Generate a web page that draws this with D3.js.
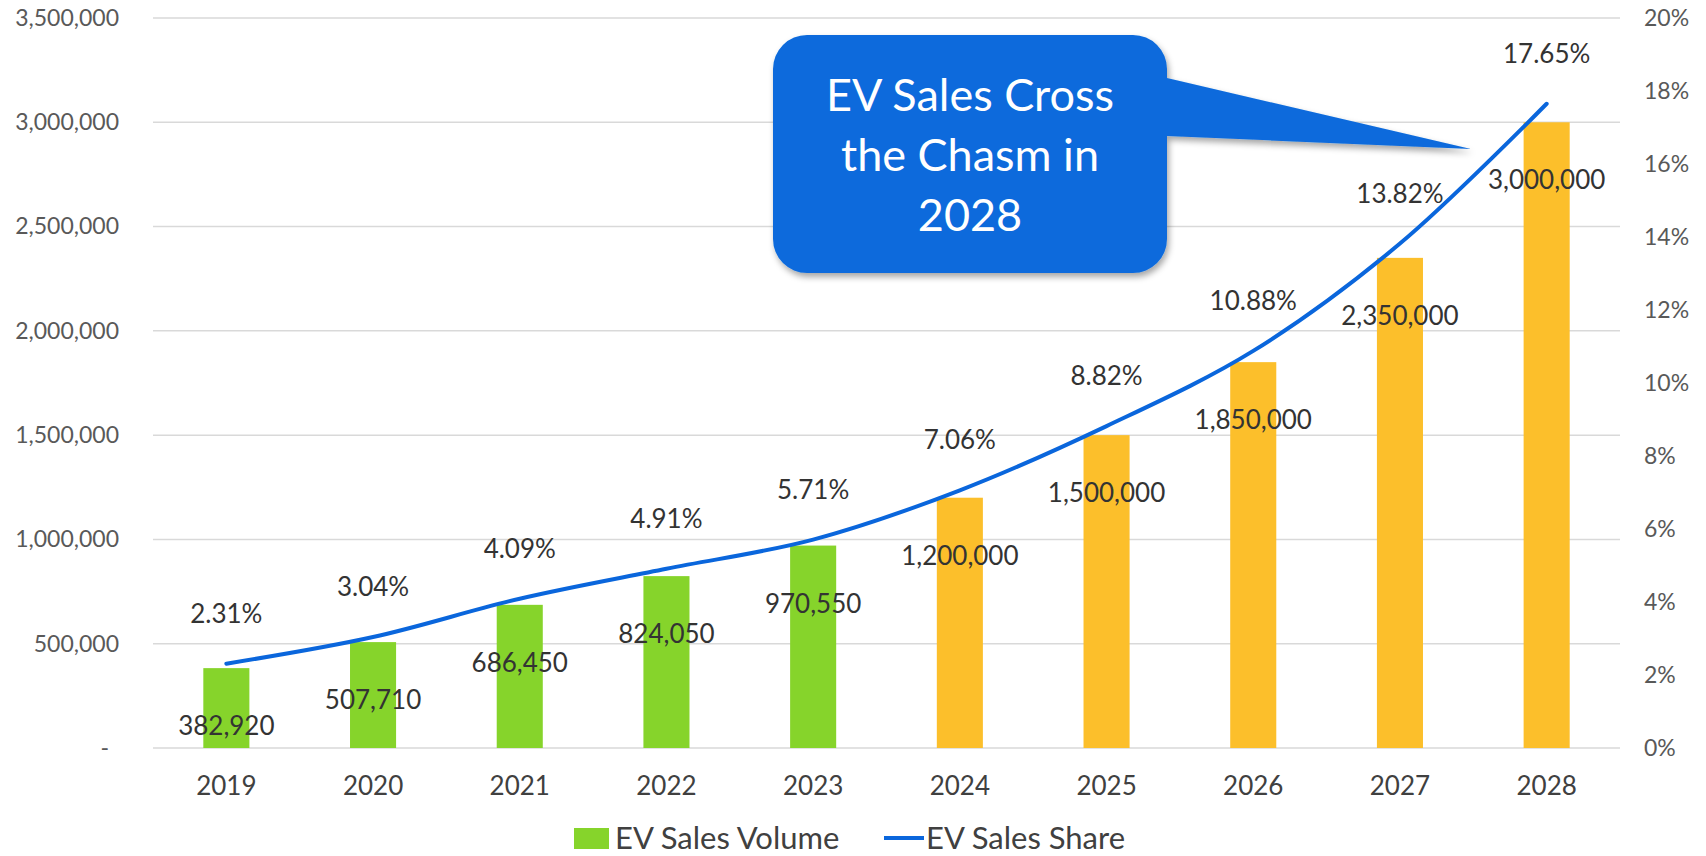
<!DOCTYPE html>
<html>
<head>
<meta charset="utf-8">
<script src="https://cdn.jsdelivr.net/npm/d3@7"></script>
<style>
  body { margin: 0; background: #ffffff; }
  svg text { font-family: Lato, "Open Sans", sans-serif; }
</style>
</head>
<body>
<div id="chart"></div>
<script>
// data
const years = ["2019", "2020", "2021", "2022", "2023", "2024", "2025", "2026", "2027", "2028"];
const salesVolume = [382920, 507710, 686450, 824050, 970550, 1200000, 1500000, 1850000, 2350000, 3000000];
const salesShare = [2.31, 3.04, 4.09, 4.91, 5.71, 7.06, 8.82, 10.88, 13.82, 17.65];
const forecastYears = ["2024", "2025", "2026", "2027", "2028"];
const volumeTicks = [0, 500000, 1000000, 1500000, 2000000, 2500000, 3000000, 3500000];
const shareTicks = [0, 2, 4, 6, 8, 10, 12, 14, 16, 18, 20];
const legendLabels = ["EV Sales Volume", "EV Sales Share"];
const calloutLines = ["EV Sales Cross", "the Chasm in", "2028"];

function draw_chart() {
    let width = 1706, height = 856;
    let margin = {top: 18, right: 86, bottom: 108, left: 153};
    let plot_w = width - margin.left - margin.right,
        plot_h = height - margin.top - margin.bottom;

    let svg = d3.select("#chart")
        .append("svg")
        .attr("width", width)
        .attr("height", height);

    let defs = svg.append("defs");
    let shadow = defs.append("filter").attr("id", "shadow")
        .attr("x", "-10%").attr("y", "-10%").attr("width", "130%").attr("height", "130%");
    shadow.append("feDropShadow")
        .attr("dx", 2).attr("dy", 4).attr("stdDeviation", 3)
        .attr("flood-color", "#000").attr("flood-opacity", 0.35);

    let g = svg.append("g")
        .attr("transform", "translate(" + margin.left + "," + margin.top + ")");

    // scales
    let x = d3.scaleBand()
        .domain(years)
        .range([0, plot_w])
        .paddingInner(0.686)
        .paddingOuter(0.343);
    let y = d3.scaleLinear()
        .domain([0, 3500000])
        .range([plot_h, 0]);
    let y2 = d3.scaleLinear()
        .domain([0, 20])
        .range([plot_h, 0]);

    // gridlines
    g.append("g")
        .selectAll("line")
        .data(volumeTicks)
        .enter()
        .append("line")
        .attr("x1", 0)
        .attr("x2", plot_w)
        .attr("y1", d => y(d))
        .attr("y2", d => y(d))
        .attr("stroke", "#d9d9d9")
        .attr("stroke-width", 1.5);

    // left axis
    let left_axis = g.append("g")
        .call(d3.axisLeft(y)
            .tickValues(volumeTicks)
            .tickSize(0)
            .tickPadding(34)
            .tickFormat(d => d === 0 ? "-" : d3.format(",")(d)));
    left_axis.select(".domain").remove();
    left_axis.selectAll("text")
        .attr("font-size", "23px")
        .attr("fill", "#595959")
        .attr("dx", d => d === 0 ? -10 : 0);

    // right axis
    let right_axis = g.append("g")
        .attr("transform", "translate(" + (plot_w + 24) + ",0)")
        .call(d3.axisRight(y2)
            .tickValues(shareTicks)
            .tickSize(0)
            .tickPadding(0)
            .tickFormat(d => d + "%"));
    right_axis.select(".domain").remove();
    right_axis.selectAll("text")
        .attr("font-size", "23px")
        .attr("fill", "#595959");

    // bottom axis
    let bottom_axis = g.append("g")
        .attr("transform", "translate(0," + plot_h + ")")
        .call(d3.axisBottom(x).tickSize(0).tickPadding(29));
    bottom_axis.select(".domain").remove();
    bottom_axis.selectAll("text")
        .attr("font-size", "26px")
        .attr("fill", "#404040");

    let rows = years.map((yr, i) => ({year: yr, volume: salesVolume[i], share: salesShare[i]}));

    // bars
    g.selectAll(".bar")
        .data(rows)
        .enter()
        .append("rect")
        .attr("class", "bar")
        .attr("x", d => x(d.year))
        .attr("width", x.bandwidth())
        .attr("y", d => y(d.volume))
        .attr("height", d => plot_h - y(d.volume))
        .attr("fill", d => forecastYears.includes(d.year) ? "#fcbf2b" : "#86d42b");

    // share line
    let line = d3.line()
        .x(d => x(d.year) + x.bandwidth() / 2)
        .y(d => y2(d.share))
        .curve(d3.curveCatmullRom.alpha(0.5));
    g.append("path")
        .datum(rows)
        .attr("d", line)
        .attr("fill", "none")
        .attr("stroke", "#0a66dc")
        .attr("stroke-width", 4)
        .attr("stroke-linecap", "round");

    // bar value labels
    g.selectAll(".vol-label")
        .data(rows)
        .enter()
        .append("text")
        .attr("class", "vol-label")
        .text(d => d3.format(",")(d.volume))
        .attr("x", d => x(d.year) + x.bandwidth() / 2)
        .attr("y", d => y(d.volume) + 58)
        .attr("dy", "0.35em")
        .attr("text-anchor", "middle")
        .attr("font-size", "26px")
        .attr("fill", "#333333");

    // share labels
    g.selectAll(".share-label")
        .data(rows)
        .enter()
        .append("text")
        .attr("class", "share-label")
        .text(d => d.share.toFixed(2) + "%")
        .attr("x", d => x(d.year) + x.bandwidth() / 2)
        .attr("y", d => y2(d.share) - 50)
        .attr("dy", "0.35em")
        .attr("text-anchor", "middle")
        .attr("font-size", "26px")
        .attr("fill", "#333333");

    // callout
    let bx0 = 773, by0 = 35, bx1 = 1167, by1 = 273, r = 34;
    let tip = [1471, 149];
    let callout = "M" + (bx0 + r) + "," + by0 +
        "H" + (bx1 - r) +
        "A" + r + "," + r + " 0 0 1 " + bx1 + "," + (by0 + r) +
        "V78" +
        "L" + tip[0] + "," + tip[1] +
        "L" + bx1 + ",136" +
        "V" + (by1 - r) +
        "A" + r + "," + r + " 0 0 1 " + (bx1 - r) + "," + by1 +
        "H" + (bx0 + r) +
        "A" + r + "," + r + " 0 0 1 " + bx0 + "," + (by1 - r) +
        "V" + (by0 + r) +
        "A" + r + "," + r + " 0 0 1 " + (bx0 + r) + "," + by0 + "Z";
    svg.append("path")
        .attr("d", callout)
        .attr("fill", "#0b6bdc")
        .attr("filter", "url(#shadow)");

    svg.append("g")
        .selectAll("text")
        .data(calloutLines)
        .enter()
        .append("text")
        .text(d => d)
        .attr("x", (bx0 + bx1) / 2)
        .attr("y", (d, i) => 95 + i * 60)
        .attr("dy", "0.35em")
        .attr("text-anchor", "middle")
        .attr("font-size", "45px")
        .attr("fill", "#ffffff");

    // legend
    let legend = svg.append("g");
    legend.append("rect")
        .attr("x", 574).attr("y", 828)
        .attr("width", 35).attr("height", 21)
        .attr("fill", "#86d42b");
    legend.append("text")
        .text(legendLabels[0])
        .attr("x", 615).attr("y", 838)
        .attr("dy", "0.35em")
        .attr("font-size", "31px")
        .attr("fill", "#404040");
    legend.append("line")
        .attr("x1", 884).attr("x2", 924)
        .attr("y1", 838).attr("y2", 838)
        .attr("stroke", "#0a66dc")
        .attr("stroke-width", 4);
    legend.append("text")
        .text(legendLabels[1])
        .attr("x", 926).attr("y", 838)
        .attr("dy", "0.35em")
        .attr("font-size", "31px")
        .attr("fill", "#404040");
}

draw_chart();
</script>
</body>
</html>
